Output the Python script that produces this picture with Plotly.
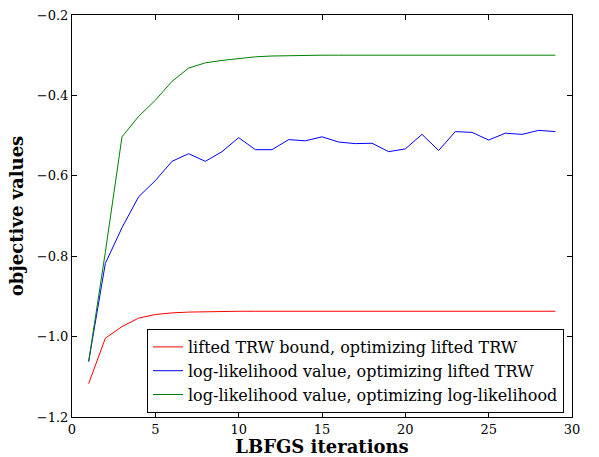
import plotly.graph_objects as go

iterations = list(range(1, 30))

trw_bound = [-1.117, -1.004, -0.975, -0.954, -0.945, -0.941, -0.939, -0.938, -0.937, -0.937,
             -0.937, -0.937, -0.937, -0.937, -0.937, -0.937, -0.937, -0.937, -0.937, -0.937,
             -0.937, -0.937, -0.937, -0.937, -0.937, -0.937, -0.937, -0.937, -0.937]

ll_trw = [-1.062, -0.818, -0.729, -0.652, -0.612, -0.564, -0.545, -0.564, -0.540, -0.505,
          -0.535, -0.535, -0.510, -0.513, -0.503, -0.516, -0.520, -0.519, -0.540, -0.533,
          -0.497, -0.537, -0.490, -0.492, -0.511, -0.494, -0.497, -0.487, -0.490]

ll_ll = [-1.062, -0.790, -0.503, -0.452, -0.412, -0.365, -0.332, -0.319, -0.313, -0.308,
         -0.304, -0.302, -0.301, -0.300, -0.300, -0.300, -0.300, -0.300, -0.300, -0.300,
         -0.300, -0.300, -0.300, -0.300, -0.300, -0.300, -0.300, -0.300, -0.300]

names = ["lifted TRW bound, optimizing lifted TRW",
         "log-likelihood value, optimizing lifted TRW",
         "log-likelihood value, optimizing log-likelihood"]
colors = ["#ff0000", "#0000ff", "#008000"]

x_ticks = [0, 5, 10, 15, 20, 25, 30]
y_ticks = [-1.2, -1.0, -0.8, -0.6, -0.4, -0.2]

font_family = "DejaVu Serif"

fig = go.Figure()
for ys, name, col in zip([trw_bound, ll_trw, ll_ll], names, colors):
    fig.add_trace(go.Scatter(x=iterations, y=ys, mode="lines", name=name,
                             line=dict(color=col, width=1)))

axis_common = dict(showline=True, linecolor="black", linewidth=1, mirror="ticks",
                   ticks="inside", ticklen=5, tickwidth=1, tickcolor="black",
                   showgrid=False, zeroline=False, automargin=False,
                   tickfont=dict(family=font_family, size=13, color="black"))

fig.update_xaxes(range=[0, 30], tickvals=x_ticks,
                 title=dict(text="<b>LBFGS iterations</b>", standoff=6,
                            font=dict(family=font_family, size=18, color="black")),
                 **axis_common)
fig.update_yaxes(range=[-1.2, -0.2], tickvals=y_ticks, tickformat=".1f",
                 title=dict(text="<b>objective values</b>", standoff=8,
                            font=dict(family=font_family, size=18, color="black")),
                 **axis_common)

fig.update_layout(
    width=599, height=457,
    margin=dict(l=72, r=27, t=15, b=40, autoexpand=False),
    paper_bgcolor="white", plot_bgcolor="white",
    font=dict(family=font_family, color="black"),
    legend=dict(x=(564 - 72) / 500, y=(417 - 329) / 402, xanchor="right", yanchor="top",
                bordercolor="black", borderwidth=1, bgcolor="white",
                font=dict(family=font_family, size=16, color="black")),
)

fig.write_html("out.html")
